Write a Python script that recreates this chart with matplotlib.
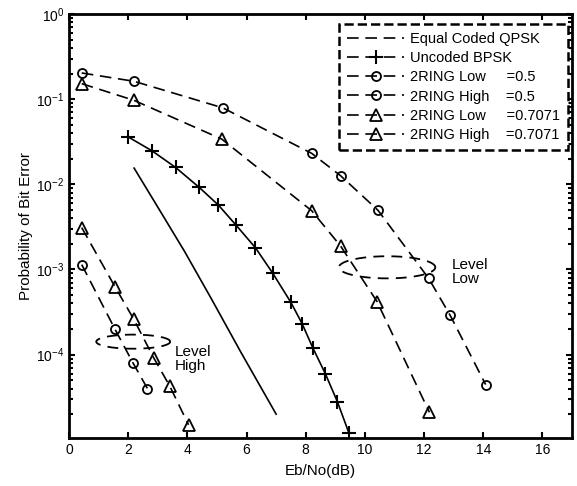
import numpy as np
import matplotlib
matplotlib.use('Agg')
import matplotlib.pyplot as plt
from matplotlib.lines import Line2D

plt.rcParams['font.family'] = ['Liberation Sans', 'DejaVu Sans']
plt.rcParams['mathtext.fontset'] = 'custom'
plt.rcParams['mathtext.rm'] = 'Liberation Sans'

## Data
# equal coded QPSK (solid line)
qpsk_x = [2.2, 3.0, 3.9, 4.8, 5.8, 7.0]
qpsk_y = [1.55e-2, 5.4e-3, 1.64e-3, 4.6e-4, 1.08e-4, 2.0e-5]

# uncoded BPSK
bpsk_x = [2.0, 2.8, 3.6, 4.4, 5.05, 5.65, 6.3, 6.88, 7.5, 7.88, 8.24, 8.66, 9.07, 9.46]
bpsk_y = [3.6e-2, 2.48e-2, 1.58e-2, 9.2e-3, 5.7e-3, 3.3e-3, 1.8e-3, 9.1e-4,
          4.1e-4, 2.3e-4, 1.2e-4, 6.0e-5, 2.8e-5, 1.2e-5]

# 2RING low level
low05_x = [0.43, 2.2, 5.2, 8.2, 9.18, 10.44, 12.15, 12.88, 14.08]
low05_y = [0.203, 0.162, 0.079, 0.0231, 0.0126, 4.96e-3, 7.9e-4, 2.9e-4, 4.45e-5]
low07_x = [0.43, 2.19, 5.16, 8.2, 9.18, 10.41, 12.18]
low07_y = [0.152, 0.097, 0.034, 4.9e-3, 1.88e-3, 4.2e-4, 2.1e-5]

# 2RING high level
high05_x = [0.43, 1.55, 2.17, 2.65]
high05_y = [1.14e-3, 2.0e-4, 7.9e-5, 4.0e-5]
high07_x = [0.43, 1.55, 2.19, 2.86, 3.4, 4.04]
high07_y = [3.1e-3, 6.3e-4, 2.6e-4, 9.2e-5, 4.3e-5, 1.5e-5]

labels = ['Equal Coded QPSK', 'Uncoded BPSK',
          '2RING Low     =0.5', '2RING High    =0.5',
          '2RING Low     =0.7071', '2RING High    =0.7071']

# ellipses marking the two levels: centre x, centre y, half width (dB), half height (decades)
ell_low = (10.75, 1.06e-3, 1.63, 0.13)
ell_high = (2.17, 1.42e-4, 1.25, 0.083)


## Draw
fig = plt.figure(figsize=(5.77, 4.86), dpi=100)
ax = fig.add_axes([0.1196, 0.0988, 0.8718, 0.8724])

dash = (0, (7, 4))
ax.plot(qpsk_x, qpsk_y, color='black', lw=1.2)
ax.plot(bpsk_x, bpsk_y, color='black', lw=1.2, marker='+', ms=10, mew=1.5)
ax.plot(low05_x, low05_y, color='black', lw=1.2, ls=dash, marker='o', ms=6.5,
        mfc='none', mew=1.3)
ax.plot(low07_x, low07_y, color='black', lw=1.2, ls=dash, marker='^', ms=8,
        mfc='none', mew=1.3)
ax.plot(high05_x, high05_y, color='black', lw=1.2, ls=dash, marker='o', ms=6.5,
        mfc='none', mew=1.3)
ax.plot(high07_x, high07_y, color='black', lw=1.2, ls=dash, marker='^', ms=8,
        mfc='none', mew=1.3)

# ellipses (drawn in dB / log-decade space)
t = np.linspace(0, 2 * np.pi, 200)
for cx, cy, a, b in [ell_low, ell_high]:
    ax.plot(cx + a * np.cos(t), 10 ** (np.log10(cy) + b * np.sin(t)),
            color='black', lw=1.3, ls=(0, (6, 4)))

ax.text(12.92, 1.35e-3, 'Level\nLow', fontsize=11, va='top', linespacing=1.0)
ax.text(3.57, 1.3e-4, 'Level\nHigh', fontsize=11, va='top', linespacing=1.0)

ax.set_yscale('log')
ax.set_xlim(0, 17)
ax.set_ylim(1.05e-5, 1)
ax.set_xticks(range(0, 17, 2))
ax.tick_params(which='both', direction='in', top=True, right=True, labelsize=10,
               width=1.5)
ax.tick_params(which='major', length=4)
ax.tick_params(which='minor', length=3)
for s in ax.spines.values():
    s.set_linewidth(2)

ax.set_xlabel('Eb/No(dB)', fontsize=11, labelpad=5)
ax.set_ylabel('Probability of Bit Error', fontsize=11, labelpad=2)

# legend: every entry shows a dashed line
handles = [
    Line2D([], [], color='black', lw=1.2, ls=dash),
    Line2D([], [], color='black', lw=1.2, ls=dash, marker='+', ms=10, mew=1.5),
    Line2D([], [], color='black', lw=1.2, ls=dash, marker='o', ms=6.5, mfc='none', mew=1.3),
    Line2D([], [], color='black', lw=1.2, ls=dash, marker='o', ms=6.5, mfc='none', mew=1.3),
    Line2D([], [], color='black', lw=1.2, ls=dash, marker='^', ms=8, mfc='none', mew=1.3),
    Line2D([], [], color='black', lw=1.2, ls=dash, marker='^', ms=8, mfc='none', mew=1.3),
]
leg = ax.legend(handles, labels, loc='upper right', bbox_to_anchor=(0.992, 0.976),
                fontsize=10.5, fancybox=False, framealpha=1, edgecolor='black',
                handlelength=3.9, handletextpad=0.4, labelspacing=0.35,
                borderpad=0.55, borderaxespad=0)
leg.get_frame().set_linestyle('--')
leg.get_frame().set_linewidth(1.8)

fig.savefig('out.png', dpi=100)
